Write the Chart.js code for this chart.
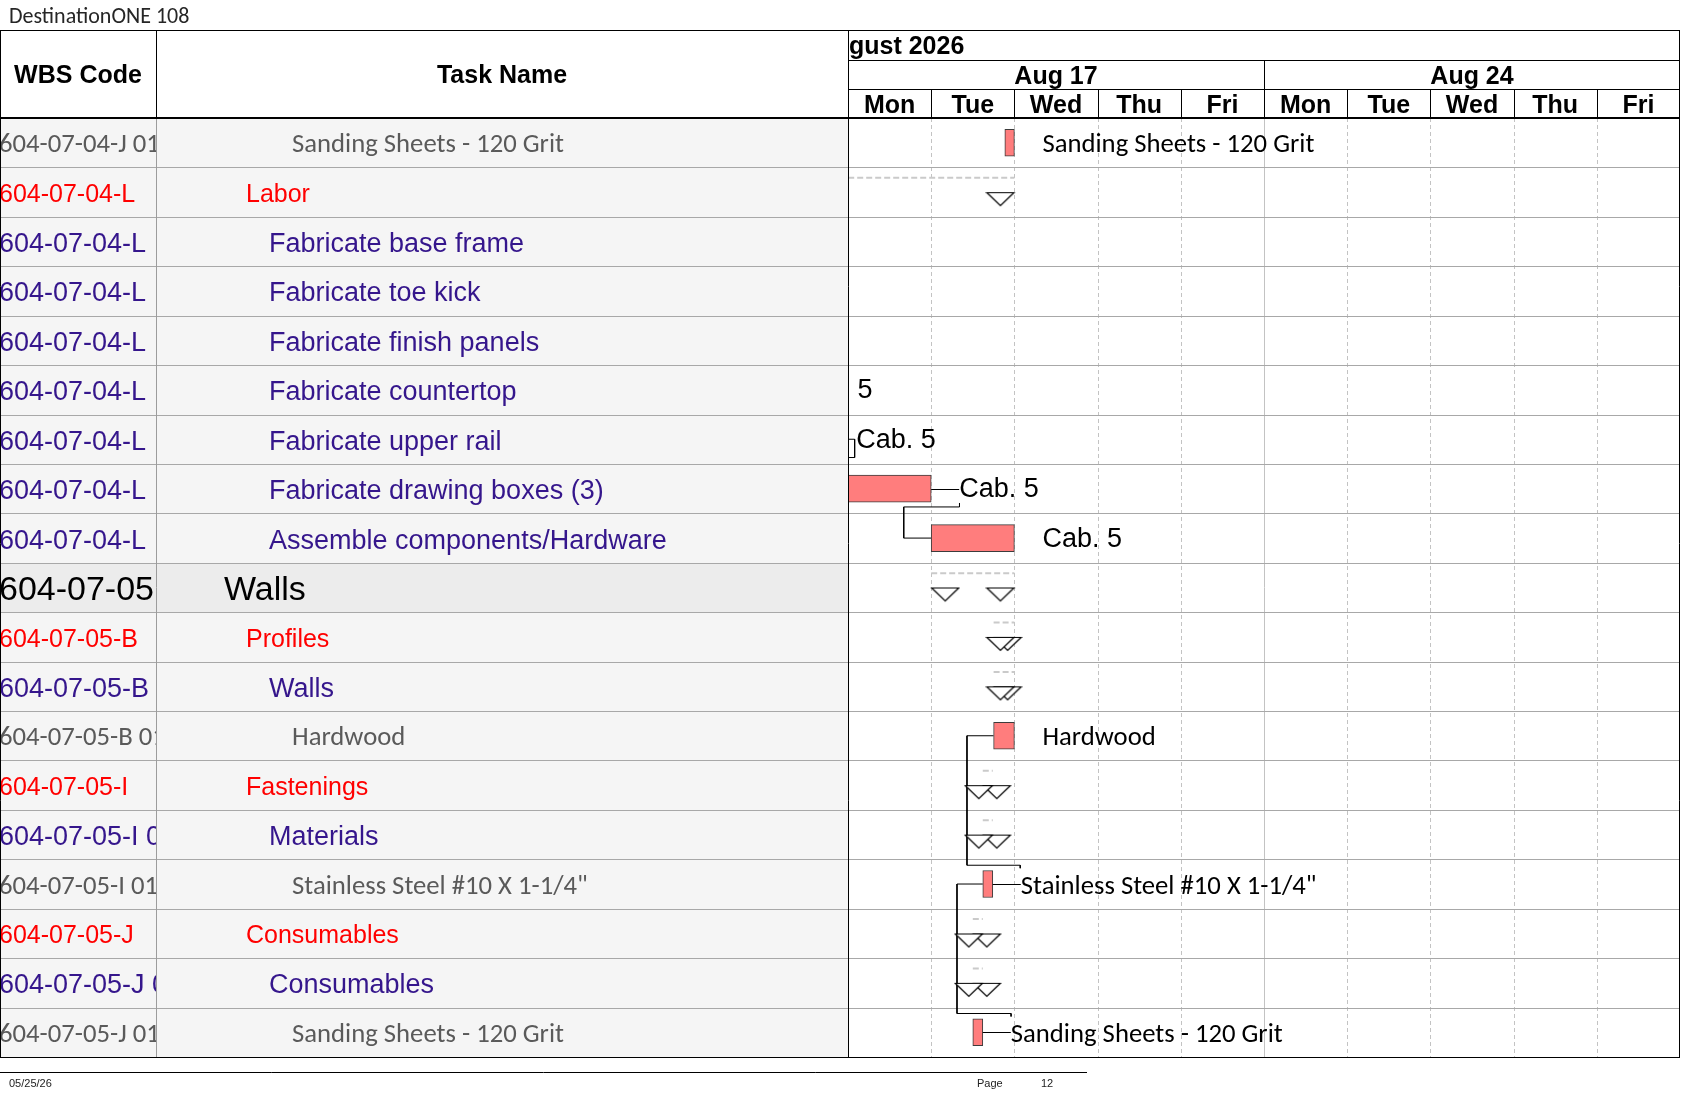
<!DOCTYPE html>
<html lang="en">
<head>
<meta charset="utf-8">
<title>DestinationONE 108 - Schedule</title>
<script src="https://cdn.jsdelivr.net/npm/chart.js@4.4.1/dist/chart.umd.min.js"></script>
<style>
  html, body { margin: 0; padding: 0; background: #fff; }
  #gantt { display: block; }
</style>
</head>
<body>
<canvas id="gantt" width="1687" height="1097"></canvas>
<script>
// Table rows, top to bottom
const wbsCodes = [
    '604-07-04-J 01', '604-07-04-L', '604-07-04-L', '604-07-04-L', '604-07-04-L',
    '604-07-04-L', '604-07-04-L', '604-07-04-L', '604-07-04-L', '604-07-05',
    '604-07-05-B', '604-07-05-B', '604-07-05-B 01', '604-07-05-I', '604-07-05-I 01',
    '604-07-05-I 01', '604-07-05-J', '604-07-05-J 01', '604-07-05-J 01'
];
const taskNames = [
    'Sanding Sheets - 120 Grit', 'Labor', 'Fabricate base frame', 'Fabricate toe kick',
    'Fabricate finish panels', 'Fabricate countertop', 'Fabricate upper rail',
    'Fabricate drawing boxes (3)', 'Assemble components/Hardware', 'Walls', 'Profiles',
    'Walls', 'Hardwood', 'Fastenings', 'Materials', 'Stainless Steel #10 X 1-1/4"',
    'Consumables', 'Consumables', 'Sanding Sheets - 120 Grit'
];
// outline level of each row
const rowLevels = [
    'item', 'group', 'task', 'task', 'task', 'task', 'task', 'task', 'task', 'phase',
    'group', 'task', 'item', 'group', 'task', 'item', 'group', 'task', 'item'
];

// Timescale (x = working days from Mon Aug 17 2026)
const monthLabel = 'August 2026';
const weekLabels = ['Aug 17', 'Aug 24'];
const dayLabels = ['Mon', 'Tue', 'Wed', 'Thu', 'Fri', 'Mon', 'Tue', 'Wed', 'Thu', 'Fri'];

// Task bars
const barRows = [0, 7, 8, 12, 15, 18];
const barStart = [1.885, 0, 1, 1.75, 1.62, 1.5];
const barEnd = [2, 1, 2, 2, 1.74, 1.62];
const barLabels = ['Sanding Sheets - 120 Grit', 'Cab. 5', 'Cab. 5', 'Hardwood', 'Stainless Steel #10 X 1-1/4"', 'Sanding Sheets - 120 Grit'];
const barLeader = [false, true, false, false, true, true];

// Summary rows (dashed span + start/finish markers)
const summaryRows = [1, 9, 10, 11, 13, 14, 16, 17];
const summaryStart = [-4, 1, 1.75, 1.75, 1.62, 1.62, 1.5, 1.5];
const summaryEnd = [2, 2, 2, 2, 1.74, 1.74, 1.62, 1.62];

// Labels of bars that lie before Aug 17
const earlyLabelRows = [5, 6];
const earlyLabelX = [-0.66, 0.1];
const earlyLabels = ['Cab. 5', 'Cab. 5'];

// Link lines, points as [day, row]
const linkPaths = [
    [[0, 6], [0.08, 6], [0.08, 6.37], [0, 6.37]],
    [[1.34, 7.29], [1.34, 7.37], [0.67, 7.37], [0.67, 8], [1, 8]],
    [[1.75, 12], [1.43, 12], [1.43, 14.62], [2.07, 14.62], [2.07, 14.68]],
    [[1.62, 15], [1.31, 15], [1.31, 17.62], [1.96, 17.62], [1.96, 17.68]]
];

const ARIAL = '"Liberation Sans", Arial, sans-serif';
const CALIBRI = 'Calibri, Carlito, Lato, sans-serif';
const levelStyle = {
    phase: { font: '34px ' + ARIAL, color: '#000000', indent: 224, dy: 3 },
    group: { font: '25px ' + ARIAL, color: '#ff0000', indent: 246, dy: 3 },
    task: { font: '27px ' + ARIAL, color: '#35168c', indent: 269, dy: 3 },
    item: { font: '26.7px ' + CALIBRI, color: '#5a5a5a', indent: 292, dy: 3 }
};
const WBS_WIDTH = 156;

// flat "down" triangle used for summary start / finish
function makeMarker(isStart) {
    const c = document.createElement('canvas');
    c.width = 58;
    c.height = 30;
    const g = c.getContext('2d');
    const x0 = isStart ? 29.5 : 1.5;
    g.fillStyle = '#ffffff';
    g.strokeStyle = '#000000';
    g.lineWidth = 1.2;
    g.beginPath();
    g.moveTo(x0, 15.5);
    g.lineTo(x0 + 27, 15.5);
    g.lineTo(x0 + 13.5, 28.5);
    g.closePath();
    g.fill();
    g.stroke();
    return c;
}

function strokeLine(ctx, x1, y1, x2, y2) {
    ctx.beginPath();
    ctx.moveTo(x1, y1);
    ctx.lineTo(x2, y2);
    ctx.stroke();
}

function ganttFont(row) {
    return rowLevels[row] === 'task' ? '27px ' + ARIAL : '26.7px ' + CALIBRI;
}

// Table, grid, header and footer around the chart area
const ganttPage = {
    id: 'ganttPage',
    beforeDatasetsDraw(chart) {
        const { ctx, chartArea: area, scales: { x, y } } = chart;
        const rowEdge = i => Math.round(y.getPixelForValue(i - 0.5));
        ctx.save();

        // shading of the table body
        wbsCodes.forEach((code, i) => {
            ctx.fillStyle = rowLevels[i] === 'phase' ? '#ececec' : '#f5f5f5';
            ctx.fillRect(0, rowEdge(i), area.left, rowEdge(i + 1) - rowEdge(i));
        });

        // day lines dashed, week line solid
        ctx.lineWidth = 1;
        ctx.strokeStyle = '#c3c3c3';
        for (let d = 1; d < dayLabels.length; d++) {
            const px = Math.round(x.getPixelForValue(d)) + 0.5;
            ctx.setLineDash(d % 5 === 0 ? [] : [4, 3]);
            strokeLine(ctx, px, area.top, px, area.bottom);
        }
        ctx.setLineDash([]);

        // row separators
        ctx.strokeStyle = '#a8a8a8';
        for (let i = 1; i < wbsCodes.length; i++) {
            const py = rowEdge(i) + 0.5;
            strokeLine(ctx, 0, py, area.right, py);
        }
        ctx.strokeStyle = '#9c9c9c';
        strokeLine(ctx, WBS_WIDTH + 0.5, area.top, WBS_WIDTH + 0.5, area.bottom);

        // table text
        ctx.textBaseline = 'middle';
        ctx.textAlign = 'left';
        wbsCodes.forEach((code, i) => {
            const st = levelStyle[rowLevels[i]];
            const top = rowEdge(i);
            const h = rowEdge(i + 1) - top;
            const cy = y.getPixelForValue(i) + st.dy;
            ctx.font = st.font;
            ctx.fillStyle = st.color;

            ctx.save();
            ctx.beginPath();
            ctx.rect(0, top, WBS_WIDTH, h);
            ctx.clip();
            ctx.fillText(code, -1, cy);
            ctx.restore();

            ctx.save();
            ctx.beginPath();
            ctx.rect(WBS_WIDTH + 1, top, area.left - WBS_WIDTH - 1, h);
            ctx.clip();
            ctx.fillText(taskNames[i], st.indent, cy);
            ctx.restore();
        });
        ctx.restore();
    },
    afterDatasetsDraw(chart) {
        const { ctx, chartArea: area, scales: { x, y } } = chart;
        ctx.save();
        ctx.textBaseline = 'middle';
        ctx.textAlign = 'left';
        ctx.fillStyle = '#000';
        ctx.strokeStyle = '#000';
        ctx.lineWidth = 1;

        // bar labels, some with a leader line
        chart.getDatasetMeta(0).data.forEach((bar, k) => {
            const row = barRows[k];
            const end = Math.max(bar.x, bar.base);
            const lx = end + 28;
            const cy = Math.round(bar.y) + 0.5;
            if (barLeader[k]) strokeLine(ctx, end, cy, lx, cy);
            ctx.font = ganttFont(row);
            ctx.fillText(barLabels[k], lx, bar.y + (rowLevels[row] === 'task' ? 1 : 3));
        });

        // labels of earlier bars, cut at the left edge
        ctx.save();
        ctx.beginPath();
        ctx.rect(area.left, area.top, area.right - area.left, area.bottom - area.top);
        ctx.clip();
        earlyLabelRows.forEach((row, k) => {
            ctx.font = ganttFont(row);
            ctx.fillText(earlyLabels[k], x.getPixelForValue(earlyLabelX[k]), y.getPixelForValue(row) + 1);
        });
        ctx.restore();

        // page title
        ctx.font = '22px ' + CALIBRI;
        ctx.fillStyle = '#262626';
        ctx.fillText('DestinationONE 108', 9, 17);

        // header captions
        ctx.fillStyle = '#000';
        ctx.font = 'bold 25px ' + ARIAL;
        ctx.textAlign = 'center';
        ctx.fillText('WBS Code', WBS_WIDTH / 2, 76);
        ctx.fillText('Task Name', (WBS_WIDTH + area.left) / 2, 76);

        // month row, clipped like the printout
        ctx.save();
        ctx.beginPath();
        ctx.rect(area.left + 1, 31, area.right - area.left - 2, 29);
        ctx.clip();
        ctx.textAlign = 'left';
        ctx.fillText(monthLabel, x.getPixelForValue(0) + 1 - ctx.measureText('Au').width, 47);
        ctx.restore();

        weekLabels.forEach((lbl, w) => {
            ctx.fillText(lbl, (x.getPixelForValue(w * 5) + x.getPixelForValue(w * 5 + 5)) / 2, 77);
        });
        dayLabels.forEach((lbl, d) => {
            ctx.fillText(lbl, x.getPixelForValue(d + 0.5), 106);
        });

        // header rules
        strokeLine(ctx, 0, 30.5, area.right, 30.5);
        strokeLine(ctx, area.left, 60.5, area.right, 60.5);
        strokeLine(ctx, area.left, 89.5, area.right, 89.5);
        for (let d = 1; d < dayLabels.length; d++) {
            const px = Math.round(x.getPixelForValue(d)) + 0.5;
            strokeLine(ctx, px, d % 5 === 0 ? 60 : 89, px, area.top);
        }
        strokeLine(ctx, WBS_WIDTH + 0.5, 30, WBS_WIDTH + 0.5, area.top);
        ctx.lineWidth = 2;
        strokeLine(ctx, 0, area.top, area.right, area.top);
        ctx.lineWidth = 1;

        // outer frame
        strokeLine(ctx, 0.5, 30, 0.5, area.bottom);
        strokeLine(ctx, area.left + 0.5, 30, area.left + 0.5, area.bottom);
        strokeLine(ctx, area.right - 0.5, 30, area.right - 0.5, area.bottom);
        strokeLine(ctx, 0, area.bottom + 0.5, area.right, area.bottom + 0.5);

        // footer
        strokeLine(ctx, 0, 1072.5, 1087, 1072.5);
        ctx.font = '11px ' + ARIAL;
        ctx.textAlign = 'left';
        ctx.fillStyle = '#222';
        ctx.fillText('05/25/26', 9, 1084);
        ctx.fillText('Page', 977, 1084);
        ctx.fillText('12', 1041, 1084);
        ctx.restore();
    }
};

const endMarker = makeMarker(false);
const startMarker = makeMarker(true);

const ctx = document.getElementById('gantt').getContext('2d');
new Chart(ctx, {
    type: 'bar',
    data: {
        datasets: [
            {
                type: 'bar',
                indexAxis: 'y',
                data: barRows.map((row, k) => ({ x: [barStart[k], barEnd[k]], y: row })),
                backgroundColor: '#ff7d7d',
                borderColor: '#3c3c3c',
                borderWidth: 1,
                borderSkipped: false,
                barThickness: 27,
                order: 0
            },
            {
                type: 'line',
                showLine: false,
                data: summaryRows.map((row, k) => ({ x: summaryEnd[k], y: row })),
                pointStyle: endMarker,
                pointRadius: 6,
                order: 1
            },
            {
                type: 'line',
                showLine: false,
                data: summaryRows.map((row, k) => ({ x: summaryStart[k], y: row })),
                pointStyle: startMarker,
                pointRadius: 6,
                order: 2
            },
            ...linkPaths.map(path => ({
                type: 'line',
                data: path.map(p => ({ x: p[0], y: p[1] })),
                borderColor: '#000',
                borderWidth: 1,
                pointRadius: 0,
                tension: 0,
                order: 3
            })),
            ...summaryRows.map((row, k) => ({
                type: 'line',
                data: [{ x: summaryStart[k], y: row - 0.29 }, { x: summaryEnd[k], y: row - 0.29 }],
                borderColor: '#cacaca',
                borderWidth: 2,
                borderDash: [6, 3],
                pointRadius: 0,
                order: 4
            }))
        ]
    },
    options: {
        responsive: false,
        animation: false,
        events: [],
        layout: { padding: { left: 848, top: 118, right: 2, bottom: 40 } },
        scales: {
            x: { type: 'linear', min: 0, max: dayLabels.length, offset: false, display: false },
            y: { type: 'linear', min: -0.5, max: wbsCodes.length - 0.5, reverse: true, offset: false, display: false }
        },
        plugins: {
            legend: { display: false },
            tooltip: { enabled: false }
        }
    },
    plugins: [ganttPage]
});
</script>
</body>
</html>
